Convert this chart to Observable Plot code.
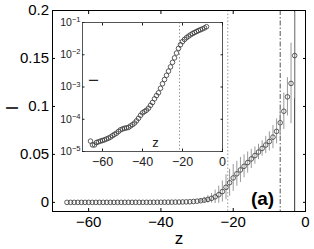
<!DOCTYPE html>
<html><head><meta charset="utf-8">
<script src="https://cdn.jsdelivr.net/npm/d3@7"></script>
<script src="https://cdn.jsdelivr.net/npm/@observablehq/plot@0.6"></script>
<style>
body{margin:0;background:#fff;}
#wrap{position:relative;width:314px;height:249px;}
#wrap svg{display:block;}
#inset{position:absolute;left:52px;top:12px;}
</style></head><body><div id="wrap"><div id="main"></div><div id="inset"></div></div>
<script>
const FONT = "'Liberation Sans', Arial, Helvetica, sans-serif";

// depth z of each sample
const zValues = [-66,-65,-64,-63,-62,-61,-60,-59,-58,-57,-56,-55,-54,-53,-52,-51,-50,-49,-48,-47,-46,-45,-44,-43,-42,-41,-40,-39,-38,-37,-36,-35,-34,-33,-32,-31,-30,-29,-28,-27,-26,-25,-24,-23,-22,-21,-20,-19,-18,-17,-16,-15,-14,-13,-12,-11,-10,-9,-8,-7,-6,-5,-4,-3];
// intensity I
const intensity = [2.1e-5,1.6e-5,1.6e-5,1.9e-5,2.0e-5,2.1e-5,2.2e-5,2.3e-5,2.45e-5,2.6e-5,2.8e-5,3.1e-5,3.4e-5,3.7e-5,4.2e-5,4.7e-5,5.0e-5,5.25e-5,5.4e-5,5.6e-5,6.2e-5,6.8e-5,7.6e-5,8.9e-5,1.07e-4,1.32e-4,1.58e-4,1.74e-4,1.91e-4,2.2e-4,2.7e-4,3.3e-4,4.3e-4,5.4e-4,6.6e-4,9.1e-4,1.26e-3,1.7e-3,2.3e-3,3.1e-3,4.2e-3,5.8e-3,8.0e-3,0.0113,0.0158,0.0205,0.0255,0.0298,0.0338,0.0376,0.0415,0.0453,0.0488,0.0525,0.0562,0.0598,0.0635,0.068,0.074,0.083,0.095,0.110,0.124,0.153];
// error bar half-widths
const errors = [0,0,0,0,0,0,0,0,0,0,0,0,0,0,0,0,0,0,0,0,0,0,0,0,0,0,0,0,0,0,0,0,0,0,0,0,0,0.002,0.003,0.004,0.005,0.007,0.009,0.011,0.013,0.014,0.014,0.013,0.013,0.012,0.011,0.010,0.009,0.008,0.008,0.009,0.010,0.012,0.013,0.014,0.019,0.020,0.042,0.045];

const xTicks = [-60,-40,-20,0];
const yTicks = [0,0.05,0.1,0.15,0.2];
const insetYTicks = [1e-1,1e-2,1e-3,1e-4,1e-5];
const dottedZ = [-21.5];
const dashDotZ = [-7];
const solidZ = [-3];
const insetMaxZ = -8;
const panelLabel = ["(a)"];

const data = zValues.map((z, i) => ({z, I: intensity[i], e: errors[i]}));
const bars = data.filter(d => d.e > 0);
const insetData = data.filter(d => d.z <= insetMaxZ);
const fmt = d => d < 0 ? "\u2212" + (-d) : String(d);

const main = Plot.plot({
  width: 314, height: 249,
  marginLeft: 52, marginRight: 9, marginTop: 10, marginBottom: 38,
  style: {fontFamily: FONT, fontSize: "15px", color: "black", background: "white"},
  x: {domain: [-70, 0]},
  y: {domain: [-0.0095, 0.2]},
  marks: [
    Plot.ruleX(dottedZ, {stroke: "#999", strokeDasharray: "1.5,2"}),
    Plot.ruleX(dashDotZ, {stroke: "#555", strokeDasharray: "5,2,1.5,2"}),
    Plot.ruleX(solidZ, {stroke: "#333"}),
    Plot.ruleX(bars, {x: "z", y1: d => d.I - d.e, y2: d => d.I + d.e, stroke: "#999"}),
    Plot.dot(data, {x: "z", y: "I", r: 2.3, stroke: "#333", strokeWidth: 0.8}),
    Plot.frame({stroke: "black"}),
    Plot.axisX(xTicks, {anchor: "bottom", tickSize: -3, tickPadding: 8, tickFormat: fmt, fontSize: 15, label: null}),
    Plot.axisX(xTicks, {anchor: "top", tickSize: -3, text: null, label: null}),
    Plot.axisY(yTicks, {anchor: "left", tickSize: -3, tickPadding: 6.4, tickFormat: fmt, fontSize: 15, label: null}),
    Plot.axisY(yTicks, {anchor: "right", tickSize: -3, text: null, label: null}),
    Plot.text(["z"], {text: d => d, frameAnchor: "bottom", textAnchor: "middle", lineAnchor: "middle", dy: 27, fontSize: 17}),
    Plot.text(["I"], {text: d => d, frameAnchor: "left", textAnchor: "middle", lineAnchor: "middle", dx: -40, dy: -3, rotate: -90, fontSize: 16}),
    Plot.text(panelLabel, {text: d => d, frameAnchor: "bottom-right", textAnchor: "middle", lineAnchor: "middle", dx: -43, dy: -13, fontSize: 19, fontWeight: "bold"})
  ]
});
document.getElementById("main").appendChild(main);

const inset = Plot.plot({
  width: 175, height: 157,
  marginLeft: 30, marginRight: 5, marginTop: 10, marginBottom: 18,
  style: {fontFamily: FONT, fontSize: "12px", color: "#222", background: "transparent", overflow: "visible"},
  x: {domain: [-70, 0]},
  y: {type: "log", domain: [1e-5, 1e-1]},
  marks: [
    Plot.frame({fill: "white"}),
    Plot.ruleX(dottedZ, {stroke: "#999", strokeDasharray: "1.5,2"}),
    Plot.dot(insetData, {x: "z", y: "I", r: 2.3, stroke: "#333", strokeWidth: 0.8}),
    Plot.frame({stroke: "#555"}),
    Plot.axisX(xTicks, {anchor: "bottom", tickSize: -2.5, tickPadding: 8, tickFormat: fmt, fontSize: 12.5, label: null}),
    Plot.axisX(xTicks, {anchor: "top", tickSize: -2.5, text: null, label: null}),
    Plot.axisY(insetYTicks, {anchor: "left", tickSize: -2.5, tickPadding: 4.5, tickFormat: d => "10^" + Math.round(Math.log10(d)), fontSize: 10.5, label: null}),
    Plot.axisY(insetYTicks, {anchor: "right", tickSize: -2.5, text: null, label: null}),
    Plot.text(["z"], {text: d => d, frameAnchor: "bottom", textAnchor: "middle", lineAnchor: "middle", dx: 3, dy: -9, fontSize: 13}),
    Plot.text(["I"], {text: d => d, frameAnchor: "left", textAnchor: "middle", lineAnchor: "middle", dx: 11, dy: -6.5, rotate: -90, fontSize: 13})
  ]
});
document.getElementById("inset").appendChild(inset);

// superscript exponents on the log tick labels
d3.select(inset).selectAll("text").each(function() {
  const t = this.textContent;
  if (/^10\^/.test(t)) {
    const exp = t.slice(3).replace("-", "\u2212");
    const sel = d3.select(this);
    sel.text("10");
    sel.append("tspan").attr("dy", "-0.5em").attr("font-size", "0.72em").text(exp);
  }
});
</script>
</body></html>
